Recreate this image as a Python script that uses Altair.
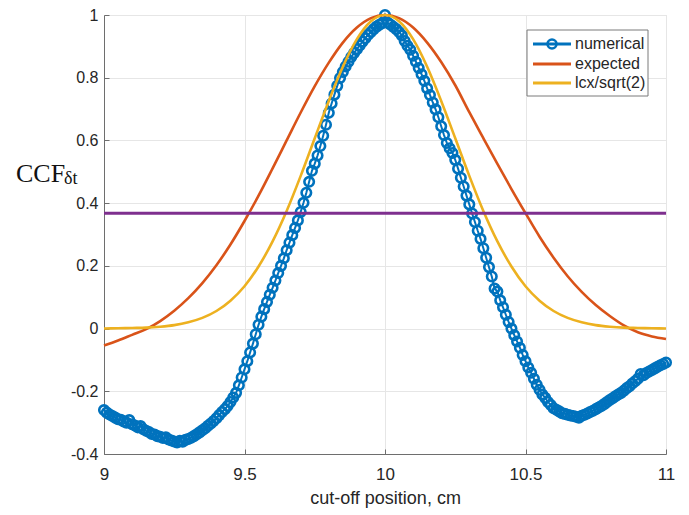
import altair as alt
import pandas as pd

# ---- data ----
num_y = [
    -0.260, -0.268, -0.274, -0.279, -0.284, -0.289, -0.291, -0.296, -0.300, -0.292,
    -0.305, -0.309, -0.315, -0.311, -0.321, -0.326, -0.330, -0.336, -0.338, -0.343,
    -0.345, -0.349, -0.347, -0.354, -0.357, -0.360, -0.363, -0.358, -0.361, -0.355,
    -0.352, -0.348, -0.343, -0.337, -0.331, -0.324, -0.318, -0.310, -0.303, -0.295,
    -0.286, -0.276, -0.266, -0.257, -0.247, -0.234, -0.220, -0.205, -0.181, -0.156,
    -0.130, -0.104, -0.076, -0.048, -0.018, 0.012, 0.038, 0.062, 0.085, 0.108,
    0.130, 0.153, 0.177, 0.200, 0.224, 0.250, 0.274, 0.298, 0.321, 0.345,
    0.372, 0.401, 0.433, 0.468, 0.503, 0.526, 0.552, 0.582, 0.615, 0.650,
    0.688, 0.718, 0.746, 0.774, 0.799, 0.818, 0.836, 0.851, 0.866, 0.879,
    0.891, 0.903, 0.915, 0.926, 0.937, 0.946, 0.955, 0.963, 0.969, 0.974,
    1.000,
    0.975, 0.969, 0.962, 0.955, 0.946, 0.935, 0.917, 0.902, 0.889, 0.870,
    0.851, 0.831, 0.811, 0.790, 0.766, 0.745, 0.721, 0.699, 0.674, 0.645,
    0.617, 0.592, 0.575, 0.560, 0.538, 0.510, 0.481, 0.453, 0.424, 0.396,
    0.367, 0.340, 0.312, 0.286, 0.256, 0.226, 0.196, 0.166, 0.128, 0.118,
    0.090, 0.068, 0.044, 0.021, 0.000, -0.021, -0.041, -0.061, -0.084, -0.104,
    -0.124, -0.141, -0.160, -0.179, -0.195, -0.210, -0.221, -0.234, -0.244, -0.254,
    -0.259, -0.264, -0.270, -0.272, -0.275, -0.277, -0.279, -0.281, -0.284, -0.278,
    -0.275, -0.271, -0.266, -0.262, -0.257, -0.252, -0.247, -0.241, -0.234, -0.228,
    -0.222, -0.216, -0.210, -0.205, -0.198, -0.190, -0.184, -0.175, -0.168, -0.160,
    -0.145, -0.149, -0.142, -0.137, -0.132, -0.127, -0.122, -0.117, -0.113, -0.108,
]
num_x = [round(9 + 2.0 * i / (len(num_y) - 1), 3) for i in range(len(num_y))]

expected_y = [
    -0.054, -0.038, -0.020, -0.002, 0.024, 0.057, 0.097, 0.145, 0.202, 0.268,
    0.343, 0.424, 0.511, 0.600, 0.689, 0.773, 0.848, 0.912, 0.960, 0.990,
    1.000,
    0.990, 0.960, 0.912, 0.850, 0.776, 0.690, 0.607, 0.525, 0.445, 0.368,
    0.293, 0.226, 0.167, 0.117, 0.075, 0.040, 0.010, -0.012, -0.025, -0.033,
]
lcx_y = [
    0.000, 0.001, 0.002, 0.003, 0.006, 0.011, 0.020, 0.034, 0.056, 0.089,
    0.135, 0.198, 0.278, 0.375, 0.487, 0.607, 0.726, 0.835, 0.923, 0.980,
    1.000,
    0.980, 0.923, 0.835, 0.726, 0.607, 0.487, 0.375, 0.278, 0.198, 0.135,
    0.089, 0.056, 0.034, 0.020, 0.011, 0.006, 0.003, 0.002, 0.001, 0.000,
]
curve_x = [round(9 + 2.0 * i / (len(expected_y) - 1), 3) for i in range(len(expected_y))]

threshold = [0.368]
x_ticks = [9, 9.5, 10, 10.5, 11]
y_ticks = [-0.4, -0.2, 0, 0.2, 0.4, 0.6, 0.8, 1]
series_names = ["numerical", "expected", "lcx/sqrt(2)"]
series_colors = ["#0072BD", "#D95319", "#EDB120"]
purple = "#7E2F8E"

W, H = 562, 439

num_df = pd.DataFrame({"x": num_x, "y": num_y})
curves_df = pd.DataFrame({
    "x": curve_x + curve_x,
    "y": expected_y + lcx_y,
    "series": [series_names[1]] * len(curve_x) + [series_names[2]] * len(curve_x),
})
thr_df = pd.DataFrame({"t": threshold})
one = pd.DataFrame({"a": [0]})

xs = alt.Scale(domain=[9, 11], nice=False, zero=False)
ys = alt.Scale(domain=[-0.4, 1], nice=False, zero=False)

FONT = "Liberation Sans"
TXT = "#262626"

x_axis = alt.Axis(
    values=x_ticks, title="cut-off position, cm", grid=True, gridColor="#e6e6e6",
    ticks=False, domainColor="#6e6e6e", labelFont=FONT, labelFontSize=17,
    labelColor=TXT, labelPadding=12, titleFont=FONT, titleFontSize=18,
    titleFontWeight="normal", titleColor=TXT, titlePadding=7, labelFlush=False,
    labelExpr="toString(datum.value)",
)
y_axis = alt.Axis(
    values=y_ticks, title=None, grid=True, gridColor="#e6e6e6", ticks=False,
    domainColor="#6e6e6e", labelFont=FONT, labelFontSize=16, labelColor=TXT,
    labelPadding=6, labelFlush=False, labelExpr="toString(datum.value)",
)

blue_line = alt.Chart(num_df).mark_line(color=series_colors[0], strokeWidth=2).encode(
    x=alt.X("x:Q", scale=xs, axis=x_axis),
    y=alt.Y("y:Q", scale=ys, axis=y_axis),
)
blue_pts = alt.Chart(num_df).mark_point(
    shape="circle", filled=False, color=series_colors[0], size=90, strokeWidth=2.6, opacity=1
).encode(
    x=alt.X("x:Q", scale=xs, axis=None),
    y=alt.Y("y:Q", scale=ys, axis=None),
)
curves = alt.Chart(curves_df).mark_line(strokeWidth=2.6, interpolate="monotone").encode(
    x=alt.X("x:Q", scale=xs, axis=None),
    y=alt.Y("y:Q", scale=ys, axis=None),
    color=alt.Color("series:N", scale=alt.Scale(domain=series_names[1:], range=series_colors[1:]), legend=None),
)
thr = alt.Chart(thr_df).mark_rule(color=purple, strokeWidth=3).encode(
    y=alt.Y("t:Q", scale=ys, axis=None),
)

# inward tick marks (top/right axes shifted onto the bottom/left edges)
tick_layer = alt.Chart(num_df).mark_point(opacity=0).encode(
    x=alt.X("x:Q", scale=xs, axis=alt.Axis(
        orient="top", offset=-H, values=x_ticks, labels=False, domain=False, grid=False,
        ticks=True, tickSize=5, tickColor="#6e6e6e", title=None)),
    y=alt.Y("y:Q", scale=ys, axis=alt.Axis(
        orient="right", offset=-W, values=y_ticks, labels=False, domain=False, grid=False,
        ticks=True, tickSize=5, tickColor="#6e6e6e", title=None)),
)

# legend box
leg_box = alt.Chart(one).mark_rect(fill="white", stroke="#7a7a7a", strokeWidth=1).encode(
    x=alt.value(423), x2=alt.value(544), y=alt.value(15), y2=alt.value(81))
leg_rows = [29, 49, 68]
leg_layers = [leg_box]
for name, col, yy in zip(series_names, series_colors, leg_rows):
    leg_layers.append(alt.Chart(one).mark_rule(color=col, strokeWidth=3).encode(
        x=alt.value(429), x2=alt.value(467), y=alt.value(yy)))
    leg_layers.append(alt.Chart(one).mark_text(
        text=name, font=FONT, fontSize=16, color=TXT, align="left", baseline="middle"
    ).encode(x=alt.value(471), y=alt.value(yy)))
leg_layers.append(alt.Chart(one).mark_point(
    shape="circle", filled=False, color=series_colors[0], size=80, strokeWidth=2.6, opacity=1
).encode(x=alt.value(448), y=alt.value(leg_rows[0])))

# y title: CCF with subscript δt
ytitle_main = alt.Chart(one).mark_text(
    text="CCF", font="Liberation Serif", fontSize=26, color="#111111", align="left", baseline="alphabetic"
).encode(x=alt.value(-88), y=alt.value(167))
ytitle_sub = alt.Chart(one).mark_text(
    text="δt", font="Liberation Serif", fontSize=18, color="#111111", align="left", baseline="alphabetic"
).encode(x=alt.value(-40), y=alt.value(169))

chart = alt.layer(
    blue_line, blue_pts, curves, thr, tick_layer, *leg_layers, ytitle_main, ytitle_sub
).resolve_axis(x="independent", y="independent").properties(
    width=W, height=H,
    autosize=alt.AutoSizeParams(type="none"),
    padding={"left": 96, "top": 7, "right": 15, "bottom": 58},
).configure_view(stroke=None).configure(background="white")

chart.save("out.html", embed_options={"renderer": "svg", "actions": False})
